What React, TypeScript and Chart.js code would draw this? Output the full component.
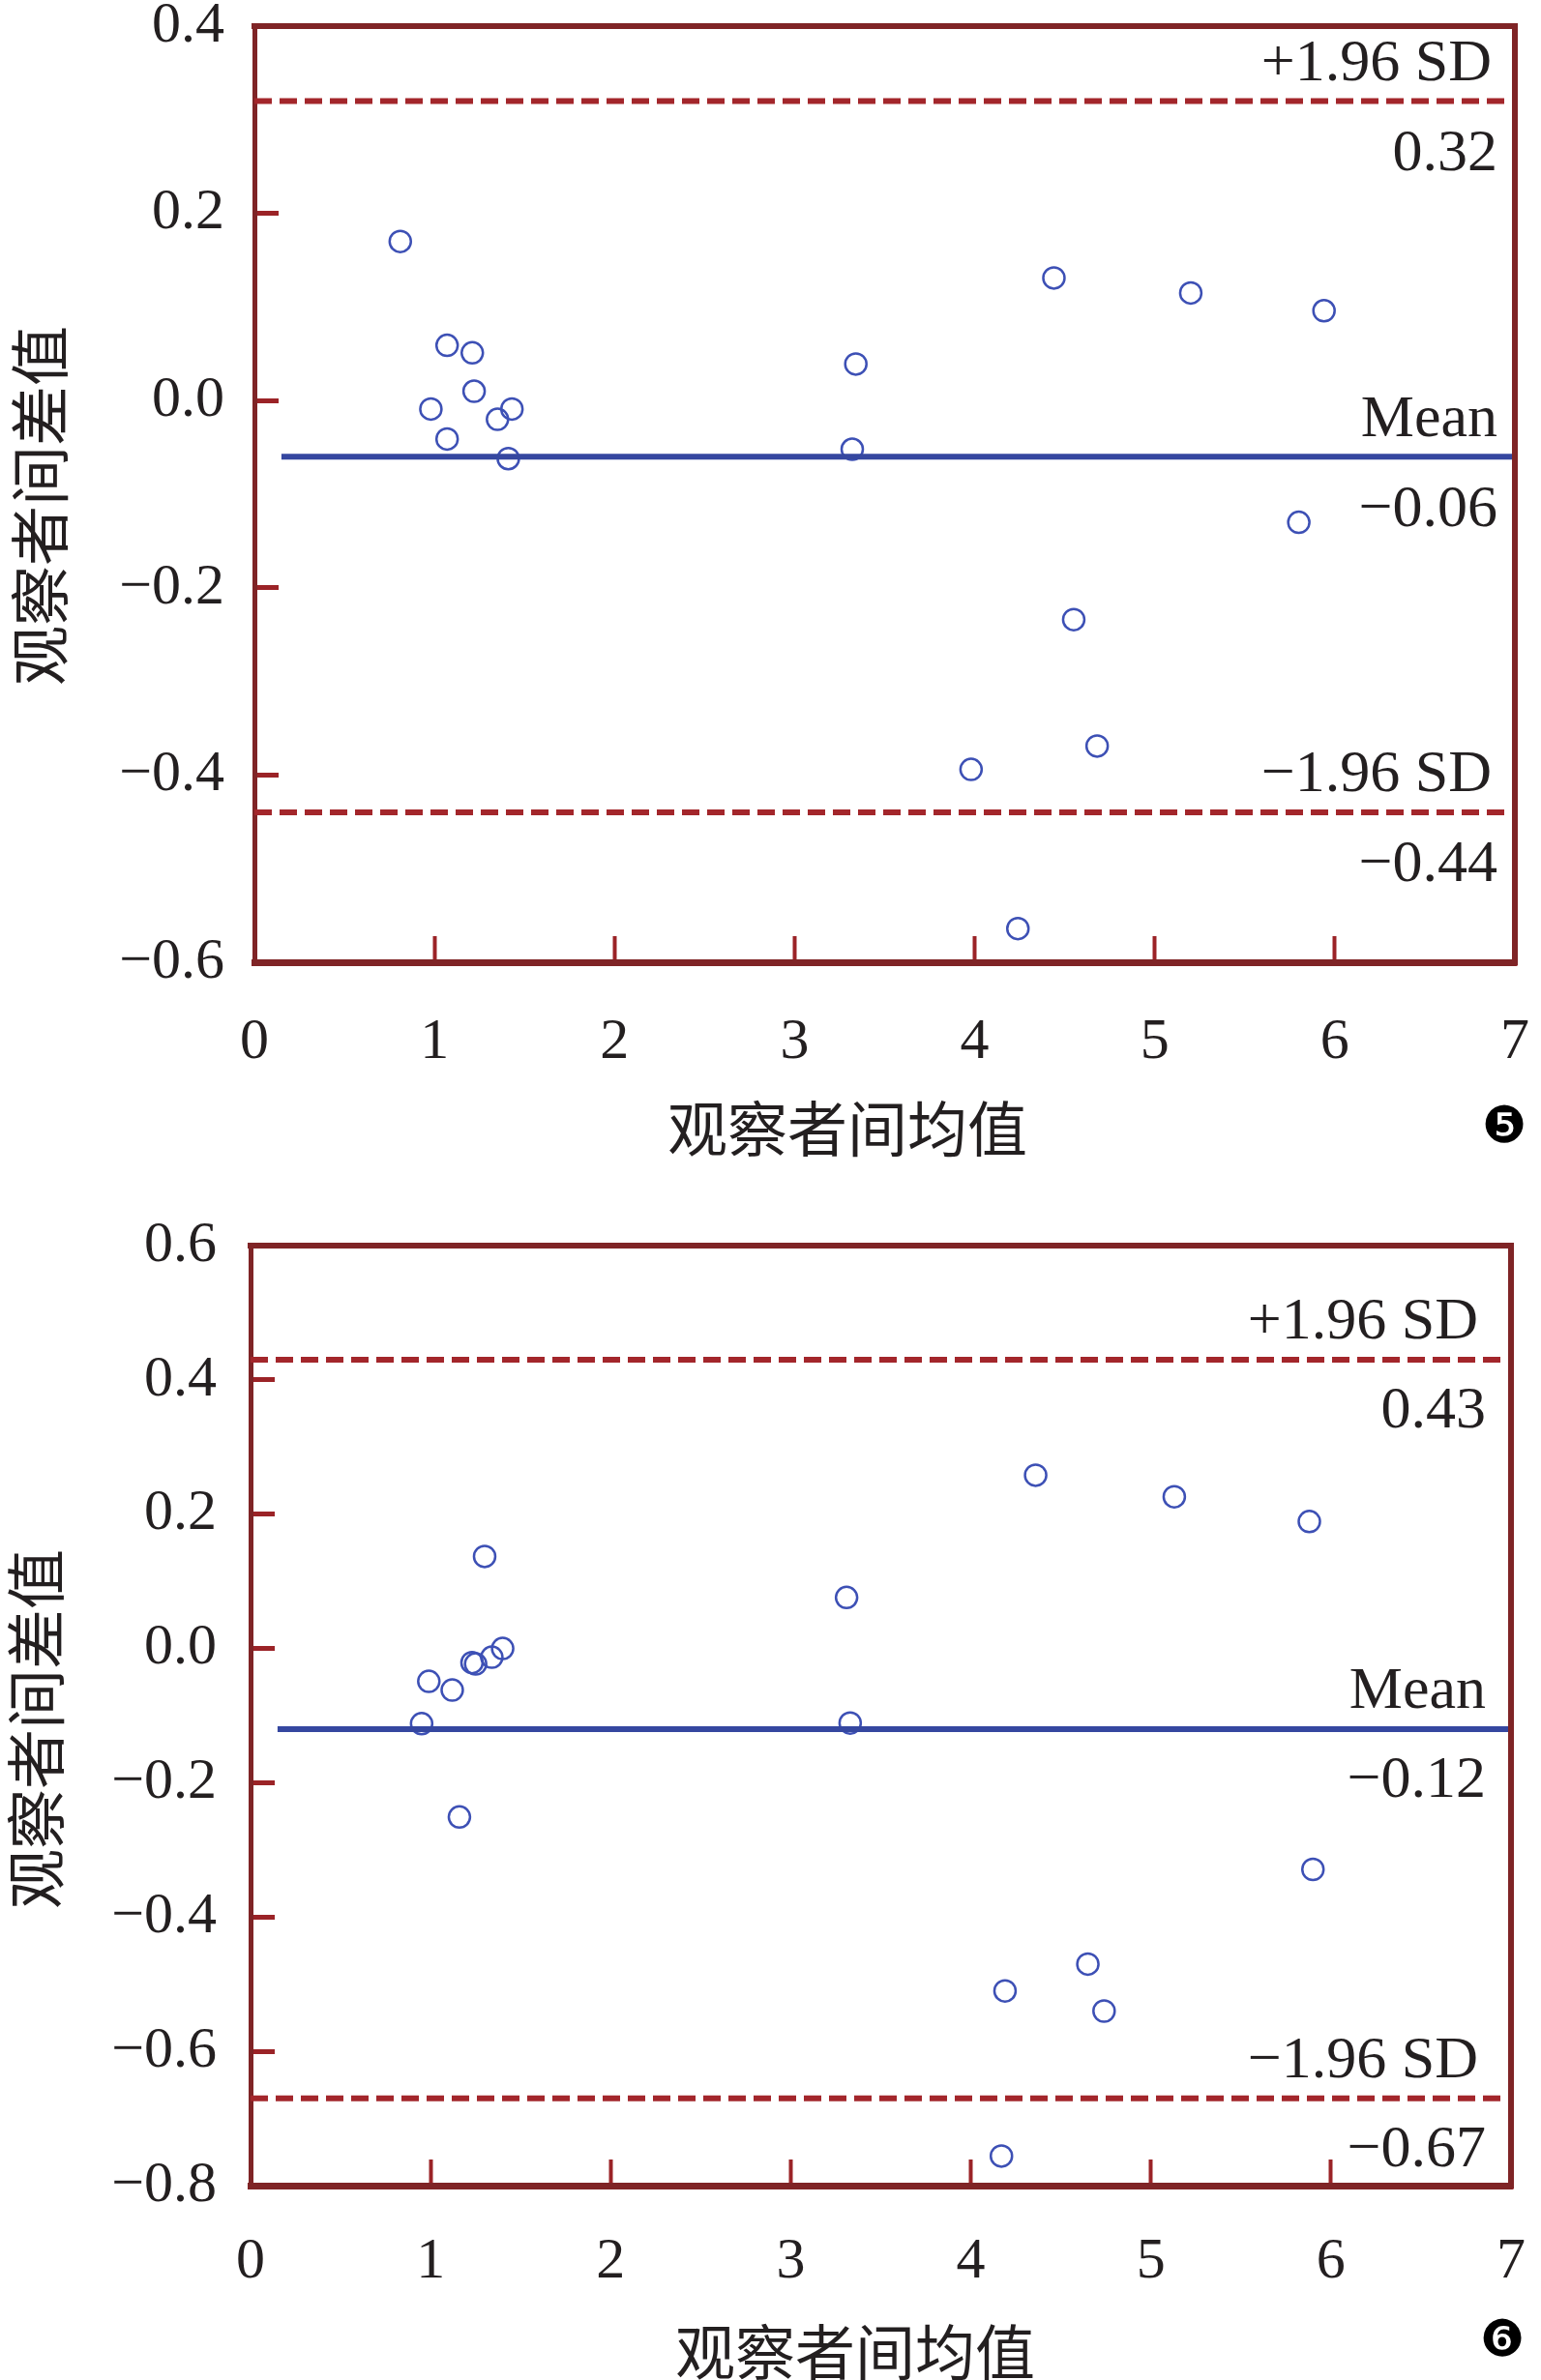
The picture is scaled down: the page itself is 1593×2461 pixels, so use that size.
import React, { useEffect, useRef } from "react";
import { Chart, registerables } from "chart.js";

Chart.register(...registerables);

// ---------- shared axis data ----------
const X_TICKS = [0, 1, 2, 3, 4, 5, 6, 7];
const X_TICK_LABELS = ["0", "1", "2", "3", "4", "5", "6", "7"];
const X_AXIS_TITLE = "观察者间均值";
const Y_AXIS_TITLE = "观察者间差值";
const LIMIT_NAMES = ["+1.96 SD", "Mean", "−1.96 SD"];
const LIMIT_X_RANGE = [0, 7];
const MEAN_X_RANGE = [0.15, 7];

// ---------- figure 5 ----------
const FIG5_MEANS = [0.81, 1.07, 1.21, 1.22, 0.98, 1.43, 1.35, 1.07, 1.41, 3.34, 3.32, 4.44, 5.2, 5.94, 5.8, 4.55, 4.68, 3.98, 4.24];
const FIG5_DIFFS = [0.17, 0.059, 0.051, 0.01, -0.009, -0.009, -0.02, -0.041, -0.062, 0.039, -0.052, 0.131, 0.115, 0.096, -0.13, -0.234, -0.369, -0.394, -0.564];
const FIG5_Y_TICKS = [-0.6, -0.4, -0.2, 0, 0.2, 0.4];
const FIG5_Y_TICK_LABELS = ["−0.6", "−0.4", "−0.2", "0.0", "0.2", "0.4"];
const FIG5_LIMITS = [0.32, -0.06, -0.44];
const FIG5_LIMIT_LABELS = ["0.32", "−0.06", "−0.44"];

// ---------- figure 6 ----------
const FIG6_MEANS = [1.3, 1.4, 1.34, 1.23, 1.25, 0.99, 1.12, 0.95, 1.16, 3.31, 3.33, 4.36, 5.13, 5.88, 5.9, 4.65, 4.19, 4.74, 4.17];
const FIG6_DIFFS = [0.137, 0.0, -0.013, -0.021, -0.023, -0.049, -0.062, -0.112, -0.251, 0.076, -0.111, 0.258, 0.226, 0.189, -0.329, -0.47, -0.51, -0.54, -0.756];
const FIG6_Y_TICKS = [-0.8, -0.6, -0.4, -0.2, 0, 0.2, 0.4, 0.6];
const FIG6_Y_TICK_LABELS = ["−0.8", "−0.6", "−0.4", "−0.2", "0.0", "0.2", "0.4", "0.6"];
const FIG6_LIMITS = [0.43, -0.12, -0.67];
const FIG6_LIMIT_LABELS = ["0.43", "−0.12", "−0.67"];

// ---------- styles ----------
const FRAME = "#7f2426";
const TICK = "#9b2327";
const DASH = "#a3262b";
const MEAN_LINE = "#3547a0";
const POINT = "#3d50b5";
const TEXT = "#231f20";
const SERIF = '"Liberation Serif", "Times New Roman", serif';
const CJK = '"Noto Sans CJK SC", sans-serif';

type Layout = {
  height: number;
  area: { left: number; right: number; top: number; bottom: number };
  yTickPad: number;
  xTickPad: number;
  yTitle: { x: number; y: number };
  xTitle: { x: number; y: number };
  badge: { x: number; y: number; text: string };
  sdRight: number;
  valRight: number;
  above: number;
  below: number;
};

const LAYOUT5: Layout = {
  height: 1230,
  area: { left: 263, right: 1566, top: 27, bottom: 995 },
  yTickPad: 56,
  xTickPad: 74,
  yTitle: { x: 41, y: 523 },
  xTitle: { x: 876, y: 1167 },
  badge: { x: 1555, y: 1167, text: "❺" },
  sdRight: 24,
  valRight: 18,
  above: 38,
  below: 55,
};

const LAYOUT6: Layout = {
  height: 1231,
  area: { left: 259, right: 1562, top: 58, bottom: 1030 },
  yTickPad: 60,
  xTickPad: 70,
  yTitle: { x: 37, y: 558 },
  xTitle: { x: 884, y: 1202 },
  badge: { x: 1553, y: 1192, text: "❻" },
  sdRight: 34,
  valRight: 26,
  above: 38,
  below: 54,
};

type PanelData = {
  means: number[];
  diffs: number[];
  yTicks: number[];
  yTickLabels: string[];
  limits: number[];
  limitLabels: string[];
};

const WIDTH = 1593;

function zeroPadding(s: any) {
  s.paddingTop = 0;
  s.paddingBottom = 0;
  s.paddingLeft = 0;
  s.paddingRight = 0;
}

function makeOverlay(L: Layout, d: PanelData) {
  return {
    id: "overlay",
    afterDraw(chart: any) {
      const ctx = chart.ctx as CanvasRenderingContext2D;
      const a = chart.chartArea;
      const ys = chart.scales.y;
      ctx.save();
      // top and right frame
      ctx.strokeStyle = FRAME;
      ctx.lineWidth = 6;
      ctx.lineCap = "square";
      ctx.beginPath();
      ctx.moveTo(a.left, a.top);
      ctx.lineTo(a.right, a.top);
      ctx.lineTo(a.right, a.bottom);
      ctx.stroke();

      // limit annotations
      ctx.fillStyle = TEXT;
      ctx.font = `62px ${SERIF}`;
      ctx.textAlign = "right";
      ctx.textBaseline = "middle";
      d.limits.forEach((v, i) => {
        const py = ys.getPixelForValue(v);
        ctx.fillText(LIMIT_NAMES[i], a.right - (i === 1 ? L.valRight : L.sdRight), py - L.above);
        ctx.fillText(d.limitLabels[i], a.right - L.valRight, py + L.below);
      });

      // axis titles
      ctx.font = `62px ${CJK}`;
      ctx.textAlign = "center";
      ctx.fillText(X_AXIS_TITLE, L.xTitle.x, L.xTitle.y);
      ctx.save();
      ctx.translate(L.yTitle.x, L.yTitle.y);
      ctx.rotate(-Math.PI / 2);
      ctx.fillText(Y_AXIS_TITLE, 0, 0);
      ctx.restore();

      // panel number
      ctx.font = `52px "DejaVu Sans", sans-serif`;
      ctx.fillStyle = "#000";
      ctx.fillText(L.badge.text, L.badge.x, L.badge.y);
      ctx.restore();
    },
  };
}

function Panel({ L, d }: { L: Layout; d: PanelData }) {
  const ref = useRef<HTMLCanvasElement | null>(null);
  useEffect(() => {
    if (!ref.current) return;
    const points = d.means.map((m, i) => ({ x: m, y: d.diffs[i] }));
    const [upper, mean, lower] = d.limits;
    const chart = new Chart(ref.current, {
      type: "scatter",
      data: {
        datasets: [
          {
            type: "line",
            data: MEAN_X_RANGE.map((x) => ({ x, y: mean })),
            borderColor: MEAN_LINE,
            borderWidth: 6,
            pointRadius: 0,
          },
          {
            type: "line",
            data: LIMIT_X_RANGE.map((x) => ({ x, y: upper })),
            borderColor: DASH,
            borderWidth: 6,
            borderDash: [18, 8],
            pointRadius: 0,
          },
          {
            type: "line",
            data: LIMIT_X_RANGE.map((x) => ({ x, y: lower })),
            borderColor: DASH,
            borderWidth: 6,
            borderDash: [18, 8],
            pointRadius: 0,
          },
          {
            type: "scatter",
            data: points,
            pointRadius: 11,
            pointBorderWidth: 2.5,
            borderColor: POINT,
            backgroundColor: "rgba(0,0,0,0)",
          },
        ],
      } as any,
      options: {
        animation: false,
        responsive: false,
        devicePixelRatio: 1,
        layout: { padding: { top: L.area.top, right: WIDTH - L.area.right, left: 0, bottom: 0 } },
        plugins: { legend: { display: false }, tooltip: { enabled: false } },
        scales: {
          x: {
            type: "linear",
            min: 0,
            max: 7,
            afterBuildTicks: (s: any) => {
              s.ticks = X_TICKS.map((v) => ({ value: v }));
            },
            afterFit: (s: any) => {
              s.height = L.height - L.area.bottom;
              zeroPadding(s);
            },
            ticks: {
              autoSkip: false,
              maxRotation: 0,
              padding: L.xTickPad,
              color: TEXT,
              font: { family: SERIF, size: 60 },
              callback: (_v: any, i: number) => X_TICK_LABELS[i],
            },
            grid: { drawOnChartArea: false, drawTicks: true, tickLength: -27, tickWidth: 4, tickColor: TICK },
            border: { display: true, color: FRAME, width: 7 },
          },
          y: {
            type: "linear",
            min: d.yTicks[0],
            max: d.yTicks[d.yTicks.length - 1],
            afterBuildTicks: (s: any) => {
              s.ticks = d.yTicks.map((v) => ({ value: v }));
            },
            afterFit: (s: any) => {
              s.width = L.area.left;
              zeroPadding(s);
            },
            ticks: {
              autoSkip: false,
              padding: L.yTickPad,
              color: TEXT,
              font: { family: SERIF, size: 60 },
              callback: (_v: any, i: number) => d.yTickLabels[i],
            },
            grid: { drawOnChartArea: false, drawTicks: true, tickLength: -25, tickWidth: 5, tickColor: TICK },
            border: { display: true, color: FRAME, width: 5 },
          },
        },
      } as any,
      plugins: [makeOverlay(L, d)],
    });
    return () => chart.destroy();
  }, []);
  return (
    <canvas
      ref={ref}
      width={WIDTH}
      height={L.height}
      style={{ display: "block", width: WIDTH, height: L.height }}
    />
  );
}

export default function App() {
  return (
    <div style={{ position: "absolute", left: 0, top: 0, width: WIDTH, height: 2461, background: "#fff" }}>
      <Panel
        L={LAYOUT5}
        d={{
          means: FIG5_MEANS,
          diffs: FIG5_DIFFS,
          yTicks: FIG5_Y_TICKS,
          yTickLabels: FIG5_Y_TICK_LABELS,
          limits: FIG5_LIMITS,
          limitLabels: FIG5_LIMIT_LABELS,
        }}
      />
      <Panel
        L={LAYOUT6}
        d={{
          means: FIG6_MEANS,
          diffs: FIG6_DIFFS,
          yTicks: FIG6_Y_TICKS,
          yTickLabels: FIG6_Y_TICK_LABELS,
          limits: FIG6_LIMITS,
          limitLabels: FIG6_LIMIT_LABELS,
        }}
      />
    </div>
  );
}
